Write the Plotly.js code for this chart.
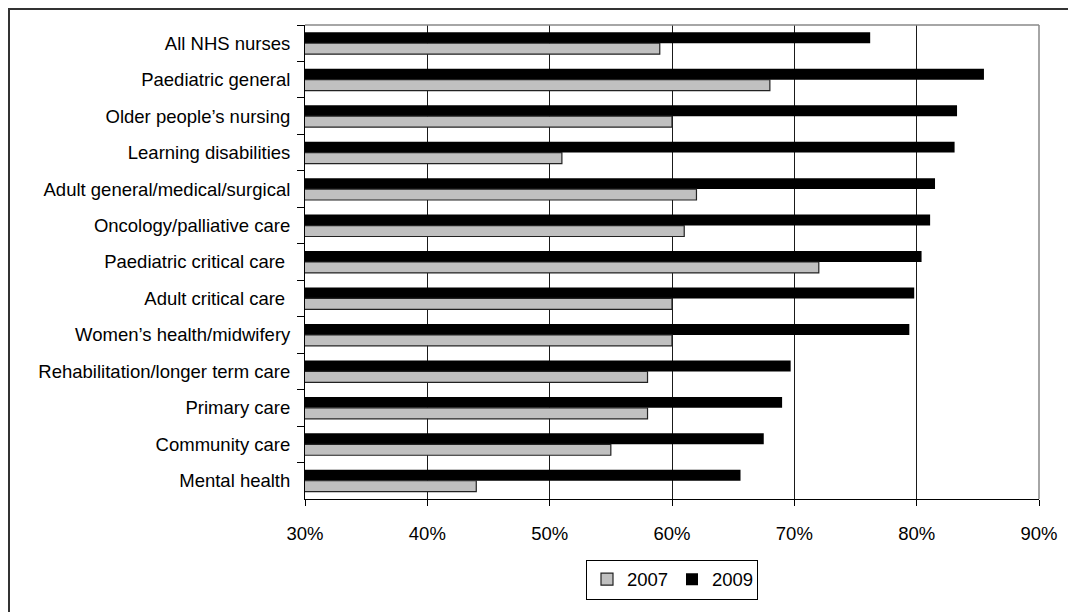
<!DOCTYPE html>
<html>
<head>
<meta charset="utf-8">
<script src="https://cdn.plot.ly/plotly-3.0.1.min.js"></script>
<style>
  html, body { margin: 0; padding: 0; background: #fff; overflow: hidden; }
  #chart { width: 1068px; height: 612px; }
  #frame { position: absolute; left: 8px; top: 8px; width: 2000px; height: 2000px;
           border-left: 2px solid #333; border-top: 2px solid #333; pointer-events: none; }
</style>
</head>
<body>
<div id="chart"></div>
<div id="frame"></div>
<script>
const categories = [
  "All NHS nurses",
  "Paediatric general",
  "Older people’s nursing",
  "Learning disabilities",
  "Adult general/medical/surgical",
  "Oncology/palliative care",
  "Paediatric critical care\u00a0",
  "Adult critical care\u00a0",
  "Women’s health/midwifery",
  "Rehabilitation/longer term care",
  "Primary care",
  "Community care",
  "Mental health"
];
const values2007 = [59, 68, 60, 51, 62, 61, 72, 60, 60, 58, 58, 55, 44];
const values2009 = [76.2, 85.5, 83.3, 83.1, 81.5, 81.1, 80.4, 79.8, 79.4, 69.7, 69.0, 67.5, 65.6];
const xTickVals = [30, 40, 50, 60, 70, 80, 90];
const xTickText = ["30%", "40%", "50%", "60%", "70%", "80%", "90%"];

const font = { family: "Liberation Sans, Arial, sans-serif", size: 18.5, color: "#000" };

const traces = [
  {
    type: "bar", orientation: "h", name: "2009",
    y: categories, x: values2009,
    marker: { color: "#000000", line: { color: "#000000", width: 0 } }
  },
  {
    type: "bar", orientation: "h", name: "2007",
    y: categories, x: values2007,
    marker: { color: "#C0C0C0", line: { color: "#222222", width: 1.2 } }
  }
];

const layout = {
  width: 1068, height: 612,
  margin: { l: 305, r: 29, t: 25, b: 100 },
  paper_bgcolor: "#fff", plot_bgcolor: "#fff",
  font: font,
  barmode: "group", bargap: 0.4, bargroupgap: 0,
  showlegend: true,
  legend: {
    orientation: "h", traceorder: "reversed",
    x: 0.5, xanchor: "center", y: -0.128, yanchor: "top",
    bordercolor: "#000", borderwidth: 1, bgcolor: "#fff",
    font: font, itemwidth: 30, entrywidth: 40, entrywidthmode: "pixels"
  },
  xaxis: {
    range: [30, 90], tickvals: xTickVals, ticktext: xTickText,
    showgrid: true, gridcolor: "#1a1a1a", gridwidth: 1,
    showline: true, linecolor: "#000", linewidth: 1,
    ticks: "outside", ticklen: 6, tickcolor: "#000", ticklabelstandoff: 12,
    zeroline: false, fixedrange: true
  },
  yaxis: {
    type: "category", autorange: "reversed",
    showline: true, linecolor: "#000", linewidth: 1,
    ticks: "outside", tickson: "boundaries", ticklen: 7, tickcolor: "#000",
    ticklabelstandoff: 10, showgrid: false, zeroline: false, fixedrange: true
  },
  shapes: [
    { type: "line", xref: "paper", yref: "paper", x0: 0, x1: 1, y0: 1, y1: 1,
      line: { color: "#888", width: 1.5 }, layer: "above" },
    { type: "line", xref: "paper", yref: "paper", x0: 1, x1: 1, y0: 0, y1: 1,
      line: { color: "#888", width: 1.5 }, layer: "above" }
  ]
};

Plotly.newPlot("chart", traces, layout, { displayModeBar: false, staticPlot: true });
</script>
</body>
</html>
